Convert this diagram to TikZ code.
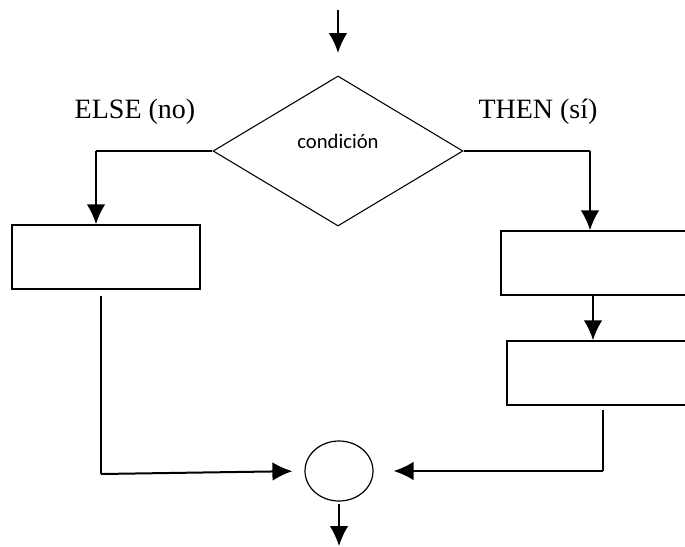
\documentclass[tikz,border=0pt]{standalone}
\usepackage{fontspec}
\setmainfont{Liberation Serif}
\newfontfamily\condfont{Carlito}
\usetikzlibrary{shapes.geometric, arrows.meta}

\tikzset{
    flow/.style={line width=1.5pt, -{Latex[length=15pt, width=14pt]}},
    plain/.style={line width=0.9pt},
    block/.style={draw, line width=1.1pt, rectangle, minimum width=141pt, minimum height=48pt, inner sep=0pt},
}

\begin{document}
\begin{tikzpicture}[x=0.75pt, y=-0.75pt]
    \useasboundingbox (0,0) rectangle (685,546);
    \clip (0,0) rectangle (685,546);
    % decision
    \node[draw, diamond, line width=0.8pt, minimum width=187.5pt, minimum height=112.5pt, inner sep=0pt, font=\condfont\fontsize{15.5}{18}\selectfont] (cond) at (338,151) {\raisebox{15pt}{condición}};
    \node[font=\fontsize{21}{24}\selectfont] (no) at (135,112) {ELSE (no)};
    \node[font=\fontsize{21}{24}\selectfont] (yes) at (538,112) {THEN (sí)};
    % blocks
    \node[block] (lbox) at (106,257) {};
    \node[block, minimum width=165pt] (rbox1) at (611,263) {};
    \node[block, minimum width=165pt] (rbox2) at (617,373) {};
    \node[draw, ellipse, line width=0.9pt, minimum width=51pt, minimum height=45pt, inner sep=0pt] (join) at (339,471) {};
    % bends
    \coordinate (start) at (338,10);
    \coordinate (entry) at (338,53);
    \coordinate (stop) at (339,546);
    \coordinate (lc) at (96,151);
    \coordinate (rc) at (590,151);
    \coordinate (lout) at (101,474);
    \coordinate (rmid) at (593,0);
    \coordinate (rout) at (603,471);
    % connectors
    \draw [flow] (start) -- (entry);
    \draw [plain] (cond.west) -- (lc);
    \draw [flow] (lc) -- (lc |- lbox.north);
    \draw [plain] (cond.east) -- (rc);
    \draw [flow] (rc) -- (rc |- rbox1.north);
    \draw [flow] (rmid |- rbox1.south) -- (rmid |- rbox2.north);
    \draw [plain, line width=1.1pt] ([yshift=-4.5pt]lout |- lbox.south) -- (lout);
    \draw [flow, shorten >=9pt] (lout) -- (join.west);
    \draw [plain, line width=1.1pt] ([yshift=-3pt]rout |- rbox2.south) -- (rout);
    \draw [flow, shorten >=15pt] (rout) -- (join.east);
    \draw [flow, line width=1.3pt] ([yshift=-1.5pt]join.south) -- (stop);
\end{tikzpicture}
\end{document}
